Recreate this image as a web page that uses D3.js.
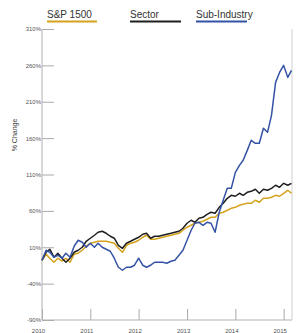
<!DOCTYPE html>
<meta charset="utf-8">
<head>
    <title>% Change</title>
</head>
<style>

 body {
     margin: 0;
     background: white;
 }

 .axis text {
     font-family: "Liberation Sans", Arial, sans-serif;
     font-size: 6px;
     fill: #555;
 }

 .legend text {
     font-family: "Liberation Sans", Arial, sans-serif;
     font-size: 10px;
     fill: #333;
 }

 .series {
     fill: none;
     stroke-width: 1.5px;
     stroke-linejoin: round;
 }

</style>
<body>
    <div id="chart"></div>
    <script src="https://d3js.org/d3.v7.min.js"></script>
    <script>

     // monthly points, Jan 2010 .. Mar 2015
     var startMonth = new Date(2010, 0, 1);

     var spValues = [-7.9, 0.4, -5.1, -10.6, -5.1, -9.2, -5.1, -10.6, 0.4, 1.8,
                     5.9, 11.4, 15.5, 16.9, 18.2, 18.2, 18.2, 16.9, 15.5, 8.6,
                     3.1, 12.7, 15.5, 16.9, 19.6, 23.7, 26.5, 21.0, 21.0, 22.4,
                     23.7, 25.1, 26.5, 27.9, 29.2, 33.4, 37.5, 40.2, 43.0, 44.3,
                     45.7, 48.5, 51.2, 51.2, 56.7, 58.1, 60.8, 63.6, 64.9, 67.7,
                     69.1, 70.4, 70.4, 74.6, 71.8, 77.3, 77.3, 78.7, 81.4, 80.1,
                     84.2, 88.3, 84.2];

     var sectorValues = [-7.9, 3.1, 7.3, -3.7, 1.8, -5.1, -10.6, -5.1, 3.1, 5.9,
                         10.0, 18.2, 22.4, 26.5, 30.6, 32.0, 29.2, 25.1, 22.4, 12.7,
                         8.6, 15.5, 18.2, 21.0, 23.7, 27.9, 29.2, 22.4, 25.1, 25.1,
                         26.5, 27.9, 29.2, 30.6, 32.0, 36.1, 43.0, 47.1, 44.3, 49.8,
                         51.2, 55.3, 58.1, 56.7, 64.9, 70.4, 77.3, 81.4, 80.1, 84.2,
                         81.4, 85.5, 86.9, 89.7, 84.2, 89.7, 88.3, 91.0, 95.2, 92.4,
                         97.9, 95.2, 97.9];

     var subIndustryValues = [-7.9, 5.9, 3.1, -3.7, -1.0, -5.1, 1.8, -3.7, 11.4, 19.6,
                              16.9, 10.0, 15.5, 10.0, 15.5, 10.0, 7.3, 4.5, -5.1, -17.5,
                              -21.6, -17.5, -17.5, -14.7, -5.1, -14.7, -17.5, -14.7, -10.6, -10.6,
                              -10.6, -12.0, -9.2, -7.9, -1.0, 5.9, 19.6, 33.4, 43.0, 44.3,
                              40.2, 44.3, 43.0, 30.6, 58.1, 74.6, 91.0, 91.0, 113.0, 122.6,
                              129.5, 143.2, 157.0, 152.9, 152.9, 173.5, 168.0, 191.3, 236.6, 250.3,
                              260.0, 243.5, 253.1];

     var seriesNames = ["S&P 1500", "Sector", "Sub-Industry"];
     var seriesColors = ["#d4a21c", "#1e1e1e", "#3553a5"];

     var yTicks = [-90, -40, 10, 60, 110, 160, 210, 260, 310];
     var xTickYears = [2010, 2011, 2012, 2013, 2014, 2015];

     var width = 298,
         height = 333;

     var margin = {left: 42, right: 6, top: 29, bottom: 13};

     var svg = d3.select("#chart").append("svg")
                 .attr("width", width)
                 .attr("height", height);

     var dates = spValues.map(function(d, i) {
         return d3.timeMonth.offset(startMonth, i);
     });

     var x = d3.scaleTime()
               .domain([startMonth, new Date(2015, 2, 5)])
               .range([margin.left, width - margin.right]);

     var y = d3.scaleLinear()
               .domain([-90, 310])
               .range([height - margin.bottom, margin.top]);

     // y axis: ticks point into the plot
     var yAxis = svg.append("g")
                    .attr("class", "axis")
                    .attr("transform", "translate(" + margin.left + ",0)")
                    .call(d3.axisRight(y)
                            .tickValues(yTicks)
                            .tickSize(12)
                            .tickFormat(function(d) { return d + "%"; }));

     yAxis.select(".domain").remove();
     yAxis.selectAll(".tick line").attr("stroke", "#aaa");
     yAxis.selectAll(".tick text")
          .attr("x", -1)
          .attr("text-anchor", "end");

     // x axis: ticks point up
     var xAxis = svg.append("g")
                    .attr("class", "axis")
                    .attr("transform", "translate(0," + y(-90) + ")")
                    .call(d3.axisTop(x)
                            .tickValues(xTickYears.map(function(d) { return new Date(d, 0, 1); }))
                            .tickSize(11)
                            .tickFormat(d3.timeFormat("%Y")));

     xAxis.select(".domain").remove();
     xAxis.selectAll(".tick line").attr("stroke", "#aaa");
     xAxis.selectAll(".tick text")
          .attr("y", 13)
          .attr("dx", -4)
          .attr("dy", 0);

     // frame lines
     svg.append("line")
        .attr("x1", margin.left).attr("x2", margin.left)
        .attr("y1", y(310)).attr("y2", y(-90))
        .attr("stroke", "#b0b0b0");

     svg.append("line")
        .attr("x1", margin.left).attr("x2", width - margin.right)
        .attr("y1", y(-90)).attr("y2", y(-90))
        .attr("stroke", "#b0b0b0");

     svg.append("line")
        .attr("x1", width - margin.right).attr("x2", width - margin.right)
        .attr("y1", y(310)).attr("y2", y(-90))
        .attr("stroke", "#d0d0d0");

     svg.append("text")
        .attr("transform", "translate(17,135) rotate(-90)")
        .attr("text-anchor", "middle")
        .style("font-family", "Liberation Sans, Arial, sans-serif")
        .style("font-size", "7px")
        .style("fill", "#444")
        .text("% Change");

     var line = d3.line()
                  .x(function(d, i) { return x(dates[i]); })
                  .y(function(d) { return y(d); });

     var allSeries = [spValues, sectorValues, subIndustryValues];

     svg.append("g")
        .selectAll("path")
        .data(allSeries)
        .enter()
        .append("path")
        .attr("class", "series")
        .attr("stroke", function(d, i) { return seriesColors[i]; })
        .attr("d", line);

     // legend across the top
     var legendX = [47, 130, 196];
     var legendW = [50, 51, 51];

     var legend = svg.append("g")
                     .attr("class", "legend")
                     .selectAll("g")
                     .data(seriesNames)
                     .enter()
                     .append("g")
                     .attr("transform", function(d, i) {
                         return "translate(" + legendX[i] + ",0)";
                     });

     legend.append("text")
           .attr("x", 0)
           .attr("y", 18)
           .text(function(d) { return d; });

     legend.append("line")
           .attr("x1", 0)
           .attr("x2", function(d, i) { return legendW[i]; })
           .attr("y1", 21.5)
           .attr("y2", 21.5)
           .attr("stroke", function(d, i) { return seriesColors[i]; })
           .attr("stroke-width", 2);

    </script>
</body>
